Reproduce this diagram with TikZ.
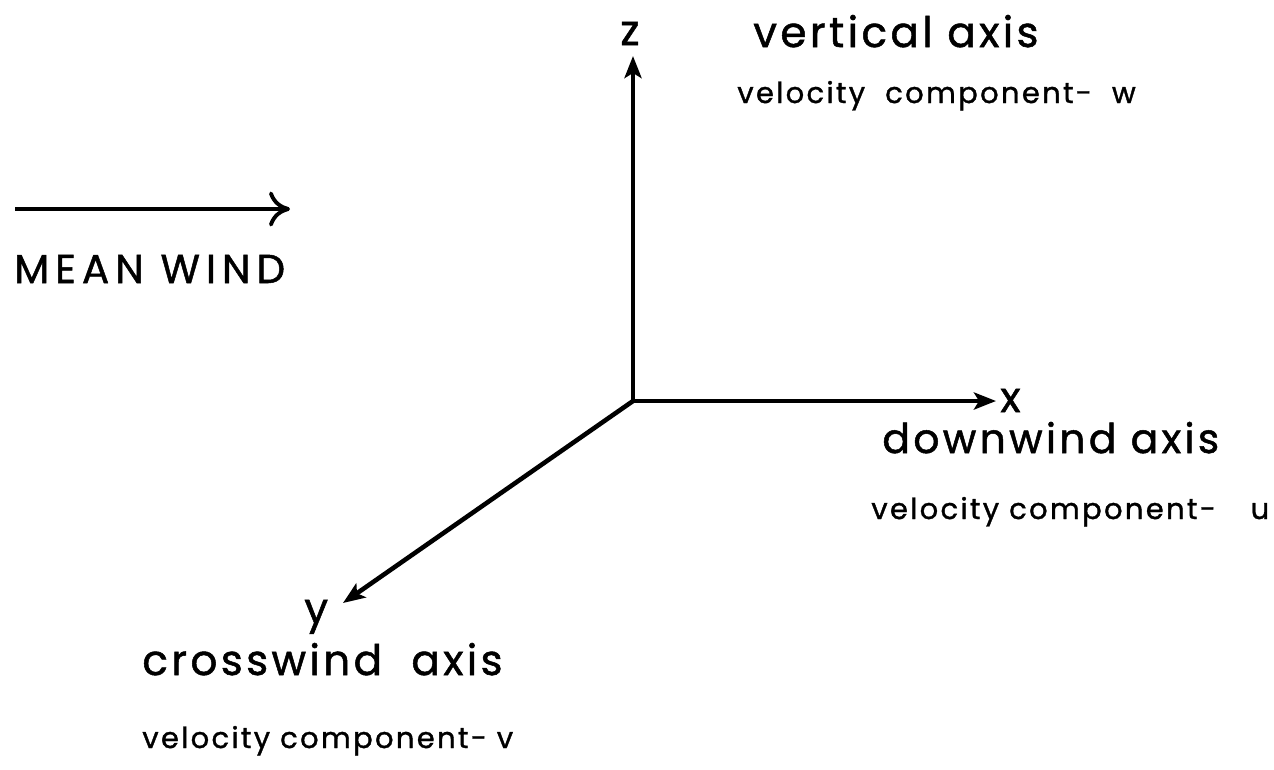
\documentclass[tikz,border=0pt]{standalone}
\usepackage{fontspec}
\setmainfont{Poppins}
\newfontfamily\letterfont[LetterSpace=8,FakeBold=1.2]{Poppins}
\newfontfamily\capsfont[LetterSpace=15,FakeBold=1.2]{Poppins}
\usetikzlibrary{arrows.meta,positioning}

\begin{document}
\begin{tikzpicture}[
  x=0.02cm,y=-0.02cm,
  axis/.style={line width=2.6pt,-{Stealth[length=4.4mm,width=3.4mm,inset=1mm]}},
  wind/.style={line width=2.2pt,-{To[length=4.2mm,width=7mm,line width=2.2pt]}},
  lbl/.style={inner sep=0pt,anchor=base west,font=\letterfont\fontsize{24}{28}\selectfont},
  sub/.style={inner sep=0pt,anchor=base west,font=\letterfont\fontsize{16.5}{20}\selectfont}
]
\useasboundingbox (0,0) rectangle (1274,769);
% axes
\coordinate (o) at (633,401);
\coordinate (ztip) at (633,56);
\coordinate (xtip) at (996,401);
\coordinate (ytip) at (343,603);
\draw[axis] (o) -- (ztip);
\draw[axis] (o) -- (xtip);
\draw[axis] (o) -- (ytip);
% mean wind
\coordinate (w0) at (15,209);
\coordinate (w1) at (290,209);
\draw[wind] (w0) -- (w1);
\node[lbl,font=\capsfont\fontsize{23}{28}\selectfont] (mw) at (14,283) {MEAN WIND};
% labels
\node[lbl] (zl) at (620,45) {z};
\node[lbl] (vert) at (753,47) {vertical axis};
\node[sub] (vw) at (737,103) {velocity \ component-\ \ w};
\node[lbl] (xl) at (1000,412) {x};
\node[lbl,font=\letterfont\fontsize{23.3}{28}\selectfont] (down) at (882,453) {downwind axis};
\node[sub] (vu) at (871,519) {velocity component-\hspace{1.2em}u};
\node[lbl] (yl) at (304,623) {y};
\node[lbl] (cross) at (142,675) {crosswind\ \ axis};
\node[sub] (vv) at (142,748) {velocity component- v};
\end{tikzpicture}
\end{document}
